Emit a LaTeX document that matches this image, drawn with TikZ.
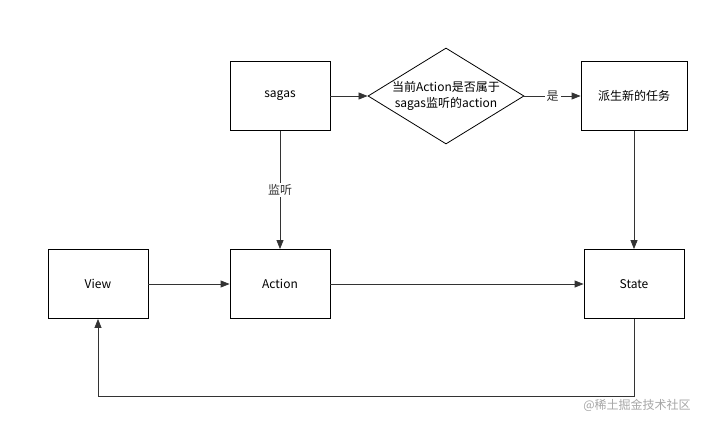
\documentclass[tikz,border=0pt]{standalone}
\usepackage{fontspec}
\setmainfont{Noto Sans CJK SC}
\usetikzlibrary{arrows.meta, positioning, shapes.geometric}
\definecolor{linegrey}{HTML}{333333}
\begin{document}
\begin{tikzpicture}[x=1pt, y=-1pt,
		box/.style={draw=black, thick, minimum width=100pt, minimum height=69pt, font=\fontsize{12}{14}\selectfont},
		flow/.style={linegrey, thick, -{Triangle[length=9pt, width=7pt]}}]
			\useasboundingbox (0,0) rectangle (718,428);
			
			\node[box] (sagas) at (280,96) {sagas};
			\node[draw=black, thick, diamond, aspect=1.62, minimum width=156pt, minimum height=96pt, inner sep=0pt, align=center, font=\fontsize{12}{16}\selectfont] (check) at (446,96) {当前Action是否属于\\sagas监听的action};
			\node[box, minimum width=106pt] (task) at (634,96) {派生新的任务};
			\node[box] (view) at (98,284) {View};
			\node[box] (action) at (280,284) {Action};
			\node[box] (state) at (634,284) {State};
			
			\draw[flow] (sagas) -- (check);
			\draw[flow] (check) -- node[fill=white, inner sep=2pt, font=\fontsize{12}{14}\selectfont] {是} (task);
			\draw[flow] (sagas) -- node[fill=white, inner sep=2pt, font=\fontsize{12}{14}\selectfont] {监听} (action);
			\draw[flow] (task) -- (state);
			\draw[flow] (view) -- (action);
			\draw[flow] (action) -- (state);
			\draw[flow] (state.south) -- (634,396) -- (98,396) -- (view.south);
			
			\node[text=gray!70, font=\fontsize{12}{14}\selectfont] (mark) at (637,405) {@稀土掘金技术社区};
		\end{tikzpicture}
\end{document}
